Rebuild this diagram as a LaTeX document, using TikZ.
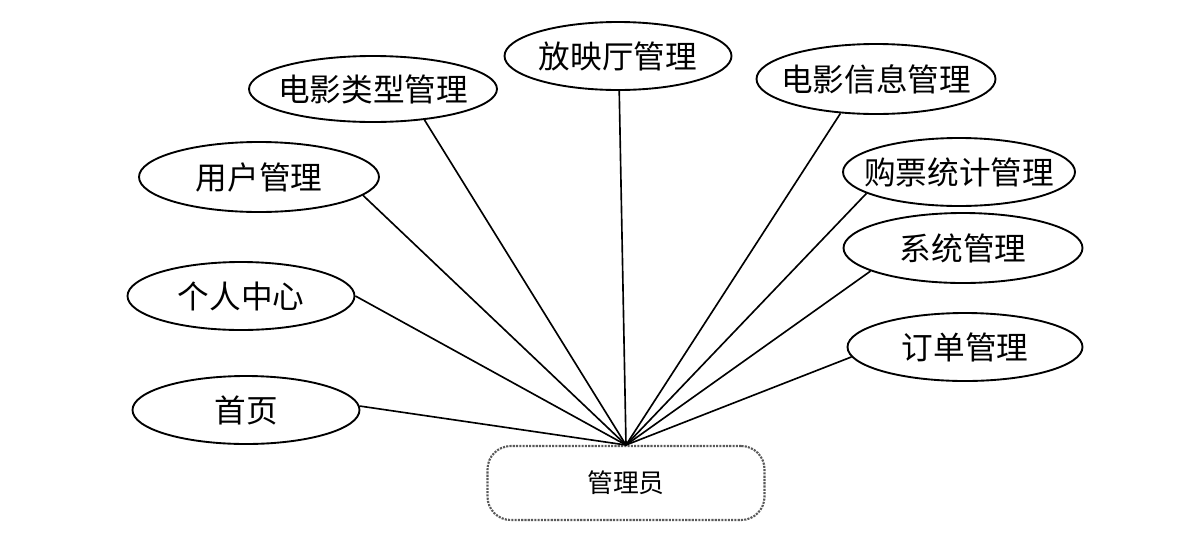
\documentclass[tikz,border=0pt]{standalone}
\usepackage{fontspec}
\setmainfont{Noto Sans CJK SC}
\usetikzlibrary{shapes.geometric}
\begin{document}
\begin{tikzpicture}[x=0.03cm,y=-0.03cm,
  ell/.style={draw,ellipse,line width=1.6pt,inner sep=0pt},
  txt/.style={font=\fontsize{27}{30}\selectfont},
  conn/.style={line width=1.4pt}]
\useasboundingbox (0,0) rectangle (1188,552);
\node[ell,minimum width=227*0.03cm,minimum height=68*0.03cm,label={[txt]center:放映厅管理}] (a) at (618,56) {};
\node[ell,minimum width=248*0.03cm,minimum height=66*0.03cm,label={[txt]center:电影类型管理}] (b) at (373,89) {};
\node[ell,minimum width=239*0.03cm,minimum height=70*0.03cm,label={[txt]center:电影信息管理}] (c) at (876,79) {};
\node[ell,minimum width=240*0.03cm,minimum height=70*0.03cm,label={[txt]center:用户管理}] (d) at (259,177) {};
\node[ell,minimum width=232*0.03cm,minimum height=68*0.03cm,label={[txt]center:购票统计管理}] (e) at (959,172) {};
\node[ell,minimum width=239*0.03cm,minimum height=70*0.03cm,label={[txt]center:系统管理}] (f) at (963,248) {};
\node[ell,minimum width=227*0.03cm,minimum height=68*0.03cm,label={[txt]center:个人中心}] (g) at (241,296) {};
\node[ell,minimum width=235*0.03cm,minimum height=68*0.03cm,label={[txt]center:订单管理}] (h) at (965,347) {};
\node[ell,minimum width=227*0.03cm,minimum height=68*0.03cm,label={[txt]center:首页}] (i) at (246,410) {};
\node[draw=gray!70!black,line width=1.8pt,densely dotted,rounded corners=0.7cm,minimum width=277*0.03cm,minimum height=74*0.03cm,inner sep=0pt,font=\fontsize{22}{26}\selectfont] (m) at (626,483) {管理员};
\coordinate (hub) at (626,445);
\foreach \n/\ang in {a/-88,b/-31,c/224,d/-10,e/193,f/194,g/0,h/185,i/2} \draw[conn] (\n.\ang) -- (hub);
\end{tikzpicture}
\end{document}
